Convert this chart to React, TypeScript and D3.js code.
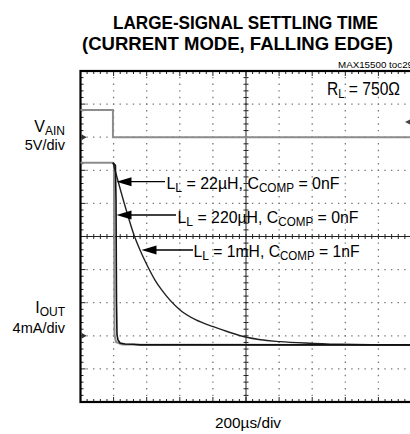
import React from "react";
import * as d3 from "d3";

// Time axis: 200 µs/div, 10 divisions
const timeDomain = [0, 2000];
// Vertical: 10 divisions; VAIN ground at div 8 (5V/div), IOUT ground at div 2 (4mA/div)
const divDomain = [0, 10];

// VAIN trace (µs, V)
const vainT = [0, 196, 196, 2000];
const vainV = [4.1, 4.1, 0, 0];

// IOUT, LL = 220µH, CCOMP = 0nF (grey trace) (µs, mA)
const l220T = [0, 196, 202, 203.6, 205.5, 214.5, 250.8, 1600, 2000];
const l220I = [20.9, 20.9, 20.8, 10.4, 0.1, -0.75, -1.05, -1.1, -1.1];

// IOUT, LL = 22µH, CCOMP = 0nF (µs, mA)
const l22T = [196, 211, 214.5, 217.5, 220.5, 226.6, 238.7, 269, 317, 360, 2000];
const l22I = [20.9, 20.6, 16.4, 4.3, 0.1, -0.51, -0.87, -0.99, -1.03, -1.1, -1.1];

// IOUT, LL = 1mH, CCOMP = 1nF (µs, mA)
const l1mT = [196.4, 226.6, 256.8, 287, 323.3, 359.5, 401.8, 450.1, 490.6, 601.2, 697.9, 802.4, 903.3, 1004.2, 1205.4, 1406.6, 1586.1, 2000];
const l1mI = [20.92, 18.71, 16.53, 14.48, 12.18, 10.37, 8.56, 6.74, 5.54, 3.12, 1.91, 1.1, 0.4, -0.18, -0.71, -0.91, -1.03, -1.11];

const titleLines = ["LARGE-SIGNAL SETTLING TIME", "(CURRENT MODE, FALLING EDGE)"];

const FONT = "'Liberation Sans', Arial, sans-serif";

export default function App() {
  const left = 80.5, top = 71, size = 331;
  const x = d3.scaleLinear().domain(timeDomain).range([left, left + size]);
  const y = d3.scaleLinear().domain(divDomain).range([top + size, top]);
  const vDiv = (v: number) => 8 + v / 5;
  const iDiv = (i: number) => 2 + i / 4;

  const lineV = d3.line<number>().x((_, k) => x(vainT[k])).y((v) => y(vDiv(v)));
  const line220 = d3.line<number>().x((_, k) => x(l220T[k])).y((v) => y(iDiv(v)));
  const line22 = d3.line<number>().x((_, k) => x(l22T[k])).y((v) => y(iDiv(v)));
  const line1m = d3.line<number>().x((_, k) => x(l1mT[k])).y((v) => y(iDiv(v))).curve(d3.curveMonotoneX);

  const divs = d3.range(0, 11);
  const subs = d3.range(0, 51).map((d) => d / 5);
  const dash = `1.4 ${size / 50 - 1.4}`;

  const gridV = divs.filter((d) => d > 0 && d < 10 && d !== 5);
  const gridH = divs.filter((d) => d > 0 && d < 10 && d !== 5);

  const arrow = (tipX: number, tipY: number, endX: number) => (
    <g>
      <line x1={tipX + 12} y1={tipY} x2={endX} y2={tipY} stroke="#000" strokeWidth={1.3} />
      <path d={`M${tipX},${tipY} L${tipX + 15},${tipY - 4.5} L${tipX + 15},${tipY + 4.5} Z`} fill="#000" />
    </g>
  );

  return (
    <svg width={410} height={434} style={{ position: "absolute", left: 0, top: 0, background: "#fff" }} fontFamily={FONT}>
      <rect width={410} height={434} fill="#fff" />
      {/* title */}
      <text x={113} y={28.5} fontSize={19} fontWeight="bold" textLength={265} lengthAdjust="spacingAndGlyphs">{titleLines[0]}</text>
      <text x={82} y={49.5} fontSize={19} fontWeight="bold" textLength={311} lengthAdjust="spacingAndGlyphs">{titleLines[1]}</text>
      <text x={338} y={67.5} fontSize={9} textLength={75} lengthAdjust="spacingAndGlyphs">MAX15500 toc29</text>

      {/* dotted grid */}
      {gridV.map((d) => (
        <line key={"gv" + d} x1={x(d * 200)} x2={x(d * 200)} y1={top} y2={top + size} stroke="#777" strokeWidth={1.3} strokeDasharray={dash} strokeDashoffset={0.7} />
      ))}
      {gridH.map((d) => (
        <line key={"gh" + d} x1={left} x2={left + size} y1={y(d)} y2={y(d)} stroke="#777" strokeWidth={1.3} strokeDasharray={dash} strokeDashoffset={0.7} />
      ))}

      {/* centre axes with ticks */}
      <line x1={x(1000)} x2={x(1000)} y1={top} y2={top + size} stroke="#222" strokeWidth={1} />
      <line x1={left} x2={left + size} y1={y(5)} y2={y(5)} stroke="#222" strokeWidth={1} />
      {subs.map((s, k) => (
        <g key={"ct" + k}>
          <line x1={x(1000) - 2.5} x2={x(1000) + 2.5} y1={y(s)} y2={y(s)} stroke="#222" strokeWidth={1} />
          <line x1={x(s * 200)} x2={x(s * 200)} y1={y(5) - 2.5} y2={y(5) + 2.5} stroke="#222" strokeWidth={1} />
          <line x1={x(s * 200)} x2={x(s * 200)} y1={top} y2={top + (k % 5 === 0 ? 5 : 3)} stroke="#222" strokeWidth={1} />
          <line x1={x(s * 200)} x2={x(s * 200)} y1={top + size} y2={top + size - (k % 5 === 0 ? 5 : 3)} stroke="#222" strokeWidth={1} />
          <line x1={left} x2={left + (k % 5 === 0 ? 5 : 3)} y1={y(s)} y2={y(s)} stroke="#222" strokeWidth={1} />
        </g>
      ))}

      {/* frame */}
      <rect x={left} y={top} width={size} height={size} fill="none" stroke="#000" strokeWidth={2.2} />

      {/* ground markers */}
      <path d={`M${left + 1},${y(8) - 3} L${left + 6},${y(8)} L${left + 1},${y(8) + 3} Z`} fill="#333" />
      <path d={`M${left + 1},${y(2) - 3} L${left + 6},${y(2)} L${left + 1},${y(2) + 3} Z`} fill="#333" />
      {/* trigger marker */}
      <path d={`M${405},${y(8.46)} L${411},${y(8.46) - 3} L${411},${y(8.46) + 3} Z`} fill="#444" />

      {/* traces */}
      <path d={lineV(vainV) || ""} fill="none" stroke="#8c8c8c" strokeWidth={2} />
      <path d={line220(l220I) || ""} fill="none" stroke="#8c8c8c" strokeWidth={2} />
      <path d={line1m(l1mI) || ""} fill="none" stroke="#222" strokeWidth={1.4} />
      <path d={line22(l22I) || ""} fill="none" stroke="#111" strokeWidth={1.6} />

      {/* RL label */}
      <text x={327} y={95} fontSize={18} textLength={73} lengthAdjust="spacingAndGlyphs">
        R<tspan fontSize={13} dy={3}>L</tspan><tspan dy={-3}> = 750Ω</tspan>
      </text>

      {/* annotations */}
      {arrow(116.5, 181.7, 165)}
      <text x={166.5} y={188.5} fontSize={17} textLength={173} lengthAdjust="spacingAndGlyphs">
        L<tspan fontSize={13} dy={3}>L</tspan><tspan dy={-3}> = 22µH, C</tspan><tspan fontSize={12.5} dy={3}>COMP</tspan><tspan dy={-3}> = 0nF</tspan>
      </text>
      {arrow(116.5, 215, 176)}
      <text x={177.5} y={223} fontSize={17} textLength={181} lengthAdjust="spacingAndGlyphs">
        L<tspan fontSize={13} dy={3}>L</tspan><tspan dy={-3}> = 220µH, C</tspan><tspan fontSize={12.5} dy={3}>COMP</tspan><tspan dy={-3}> = 0nF</tspan>
      </text>
      {arrow(141.5, 250, 193)}
      <text x={193.5} y={257} fontSize={17} textLength={166} lengthAdjust="spacingAndGlyphs">
        L<tspan fontSize={13} dy={3}>L</tspan><tspan dy={-3}> = 1mH, C</tspan><tspan fontSize={12.5} dy={3}>COMP</tspan><tspan dy={-3}> = 1nF</tspan>
      </text>

      {/* channel labels */}
      <text x={65} y={131.5} fontSize={16} textAnchor="end">
        V<tspan fontSize={12} dy={3}>AIN</tspan>
      </text>
      <text x={65} y={150} fontSize={14.5} textAnchor="end">5V/div</text>
      <text x={65} y={313} fontSize={16} textAnchor="end">
        I<tspan fontSize={12} dy={3}>OUT</tspan>
      </text>
      <text x={65} y={333} fontSize={14.5} textAnchor="end">4mA/div</text>

      <text x={248} y={428} fontSize={15} textAnchor="middle" textLength={66} lengthAdjust="spacingAndGlyphs">200µs/div</text>
    </svg>
  );
}
